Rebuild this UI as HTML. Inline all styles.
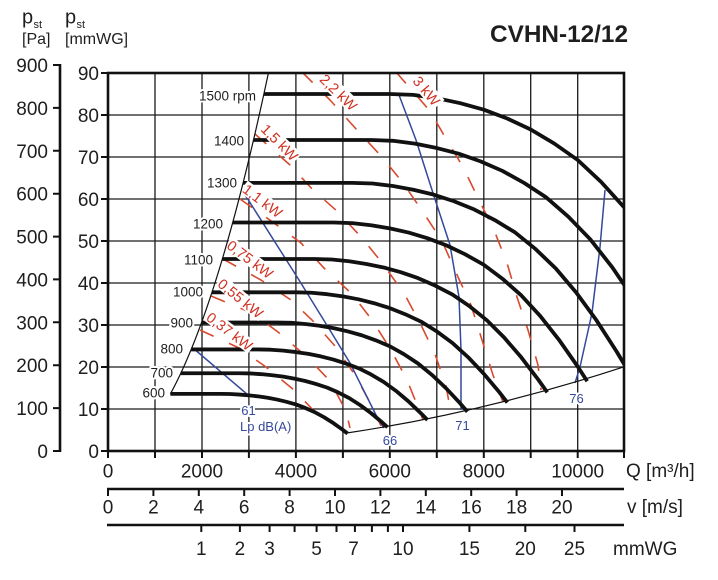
<!DOCTYPE html>
<html><head><meta charset="utf-8"><style>
html,body{margin:0;padding:0;background:#fff;}
svg{display:block;}
text{font-family:"Liberation Sans",Arial,sans-serif;}
</style></head><body>
<svg width="718" height="580" viewBox="0 0 718 580" xmlns="http://www.w3.org/2000/svg">
<defs><clipPath id="pc"><rect x="108" y="73" width="516" height="378"/></clipPath></defs>
<rect width="718" height="580" fill="#fff"/>

<!-- grid -->
<g stroke="#1a1a1a" stroke-width="1.3">
<path d="M155,73V451M202,73V451M248.9,73V451M295.9,73V451M342.9,73V451M389.8,73V451M436.8,73V451M483.8,73V451M530.7,73V451M577.7,73V451"/>
<path d="M108,409H624M108,367H624M108,325H624M108,283H624M108,241H624M108,199H624M108,157H624M108,115H624"/>
</g>

<!-- power lines -->
<g fill="none" stroke="#d84a2f" stroke-width="1.6" stroke-dasharray="15 17" clip-path="url(#pc)">
<path d="M200,330 L239,348 L266,367 L294,390 L316,413"/>
<path d="M211,296 L252,313 L278,332 L307,357 L330,381 L346,411 L350,428"/>
<path d="M223,259 L261,280 L291,300 L312,320 L335,346 L355,375 L373,408 L381,426"/>
<path d="M240,199 L274,223 L301,243 L324,268 L352,294 L372,320 L391,350 L407,380 L420,412 L423,420"/>
<path d="M255,134 L290,165 L313,190 L337,211 L362,238 L383,264 L405,295 L422,327 L435,354 L446,386 L451,413"/>
<path d="M302,72 L330,100 L357,130 L382,157 L403,183 L423,212 L442,241 L458,277 L471,305 L482,340 L493,375 L503,402"/>
<path d="M396,72 L430,111 L445,137 L463,167 L479,200 L494,230 L507,263 L517,297 L528,330 L538,365 L541,390"/>
</g>

<!-- blue Lp lines -->
<g fill="none" stroke="#34499b" stroke-width="1.5" stroke-linejoin="round">
<path d="M193,348 L248,395"/>
<path d="M242,190 L299,280 L328,327 L350,363 L377,417 L384,428"/>
<path d="M399,95 L416,140 L432,190 L450,245 L459,297 L461,350 L461,410"/>
<path d="M605,190 L600,247 L592,313 L580,367 L575,383"/>
</g>

<!-- fan curves -->
<g clip-path="url(#pc)" fill="none" stroke="#111" stroke-width="3.8" stroke-linejoin="round">
<path vector-effect="non-scaling-stroke" transform="translate(108,451) scale(0.4,0.16)" d="M155.9,-357 L281.8,-357 L305.3,-356.1 L328.8,-352.8 L352.3,-347.8 L375.8,-341.3 L399.2,-332.5 L422.7,-321.5 L446.2,-307.5 L469.7,-291 L493.2,-269 L516.7,-243 L540.2,-211 L563.6,-174 L587.1,-132 L599,-109"/>
<path vector-effect="non-scaling-stroke" transform="translate(108,451) scale(0.46667,0.21778)" d="M155.9,-357 L281.8,-357 L305.3,-356.1 L328.8,-352.8 L352.3,-347.8 L375.8,-341.3 L399.2,-332.5 L422.7,-321.5 L446.2,-307.5 L469.7,-291 L493.2,-269 L516.7,-243 L540.2,-211 L563.6,-174 L587.1,-132 L599,-109"/>
<path vector-effect="non-scaling-stroke" transform="translate(108,451) scale(0.53333,0.28444)" d="M155.9,-357 L281.8,-357 L305.3,-356.1 L328.8,-352.8 L352.3,-347.8 L375.8,-341.3 L399.2,-332.5 L422.7,-321.5 L446.2,-307.5 L469.7,-291 L493.2,-269 L516.7,-243 L540.2,-211 L563.6,-174 L587.1,-132 L599,-109"/>
<path vector-effect="non-scaling-stroke" transform="translate(108,451) scale(0.6,0.36)" d="M155.9,-357 L281.8,-357 L305.3,-356.1 L328.8,-352.8 L352.3,-347.8 L375.8,-341.3 L399.2,-332.5 L422.7,-321.5 L446.2,-307.5 L469.7,-291 L493.2,-269 L516.7,-243 L540.2,-211 L563.6,-174 L587.1,-132 L599,-109"/>
<path vector-effect="non-scaling-stroke" transform="translate(108,451) scale(0.66667,0.44444)" d="M155.9,-357 L281.8,-357 L305.3,-356.1 L328.8,-352.8 L352.3,-347.8 L375.8,-341.3 L399.2,-332.5 L422.7,-321.5 L446.2,-307.5 L469.7,-291 L493.2,-269 L516.7,-243 L540.2,-211 L563.6,-174 L587.1,-132 L599,-109"/>
<path vector-effect="non-scaling-stroke" transform="translate(108,451) scale(0.73333,0.53778)" d="M155.9,-357 L281.8,-357 L305.3,-356.1 L328.8,-352.8 L352.3,-347.8 L375.8,-341.3 L399.2,-332.5 L422.7,-321.5 L446.2,-307.5 L469.7,-291 L493.2,-269 L516.7,-243 L540.2,-211 L563.6,-174 L587.1,-132 L599,-109"/>
<path vector-effect="non-scaling-stroke" transform="translate(108,451) scale(0.8,0.64)" d="M155.9,-357 L281.8,-357 L305.3,-356.1 L328.8,-352.8 L352.3,-347.8 L375.8,-341.3 L399.2,-332.5 L422.7,-321.5 L446.2,-307.5 L469.7,-291 L493.2,-269 L516.7,-243 L540.2,-211 L563.6,-174 L587.1,-132 L599,-109"/>
<path vector-effect="non-scaling-stroke" transform="translate(108,451) scale(0.86667,0.75111)" d="M155.9,-357 L281.8,-357 L305.3,-356.1 L328.8,-352.8 L352.3,-347.8 L375.8,-341.3 L399.2,-332.5 L422.7,-321.5 L446.2,-307.5 L469.7,-291 L493.2,-269 L516.7,-243 L540.2,-211 L563.6,-174 L587.1,-132 L599,-109"/>
<path vector-effect="non-scaling-stroke" transform="translate(108,451) scale(0.93333,0.87111)" d="M155.9,-357 L281.8,-357 L305.3,-356.1 L328.8,-352.8 L352.3,-347.8 L375.8,-341.3 L399.2,-332.5 L422.7,-321.5 L446.2,-307.5 L469.7,-291 L493.2,-269 L516.7,-243 L540.2,-211 L563.6,-174 L587.1,-132 L599,-109"/>
<path vector-effect="non-scaling-stroke" transform="translate(108,451) scale(1,1)" d="M155.9,-357 L281.8,-357 L305.3,-356.1 L328.8,-352.8 L352.3,-347.8 L375.8,-341.3 L399.2,-332.5 L422.7,-321.5 L446.2,-307.5 L469.7,-291 L493.2,-269 L516.7,-243 L540.2,-211 L563.6,-174 L587.1,-132 L599,-109"/>
</g>

<!-- kW labels -->
<g font-size="14.5" fill="#cf2f1f" text-anchor="middle">
<g transform="translate(229.5,331.5) rotate(37)"><rect x="-28" y="-7.5" width="56" height="14" fill="#fff"/><text y="5">0,37 kW</text></g>
<g transform="translate(240.5,298.5) rotate(39)"><rect x="-28" y="-7.5" width="56" height="14" fill="#fff"/><text y="5">0,55 kW</text></g>
<g transform="translate(250,259.5) rotate(37)"><rect x="-28" y="-7.5" width="56" height="14" fill="#fff"/><text y="5">0,75 kW</text></g>
<g transform="translate(262.5,201) rotate(37)"><rect x="-24" y="-7.5" width="48" height="14" fill="#fff"/><text y="5">1,1 kW</text></g>
<g transform="translate(279.5,142.5) rotate(45)"><rect x="-24" y="-7.5" width="48" height="14" fill="#fff"/><text y="5">1,5 kW</text></g>
<g transform="translate(338.5,92.5) rotate(44)"><rect x="-25" y="-8" width="50" height="15" fill="#fff"/><text y="5">2,2 kW</text></g>
<g transform="translate(426.5,91) rotate(50)"><rect x="-18.5" y="-8" width="37" height="15" fill="#fff"/><text y="5">3 kW</text></g>
</g>

<!-- boundary lines -->
<g fill="none" stroke="#111" stroke-width="1.2">
<path d="M170.4,393.9 Q219.4,304.1 268.4,73"/>
<path d="M347.6,432.9 Q485.8,412 624,366.8"/>
</g>

<!-- plot frame and ticks -->
<rect x="108" y="73" width="516" height="378" fill="none" stroke="#111" stroke-width="2.6"/>
<g stroke="#111" stroke-width="2">
<path d="M101,451H108M101,409H108M101,367H108M101,325H108M101,283H108M101,241H108M101,199H108M101,157H108M101,115H108M101,73H108"/>
<path d="M108,451V458M155,451V458M202,451V458M248.9,451V458M295.9,451V458M342.9,451V458M389.8,451V458M436.8,451V458M483.8,451V458M530.7,451V458M577.7,451V458M624,451V458"/>
<path d="M53,451H60M53,408.1H60M53,365.2H60M53,322.3H60M53,279.4H60M53,236.6H60M53,193.7H60M53,150.8H60M53,107.9H60M53,65H60"/>
<path d="M108,489V496M153.4,489V496M198.8,489V496M244.2,489V496M289.6,489V496M335,489V496M380.4,489V496M425.8,489V496M471.2,489V496M516.6,489V496M562,489V496"/>
<path d="M201.3,525V532M239.9,525V532M269.6,525V532M294.6,525V532M316.6,525V532M336.5,525V532M354.9,525V532M371.9,525V532M387.9,525V532M403,525V532M469.4,525V532M525.3,525V532M574.5,525V532"/>
</g>
<g stroke="#111" stroke-width="2.6">
<path d="M60,64V452"/>
<path d="M107,489H624"/>
<path d="M107,525H624"/>
</g>

<!-- rpm labels -->
<g font-size="13.5" fill="#1e1e1e" text-anchor="end" stroke="#fff" stroke-width="4" paint-order="stroke" stroke-linejoin="round">
<text x="256" y="100.5">1500 rpm</text>
<text x="244" y="145.5">1400</text>
<text x="237" y="187.5">1300</text>
<text x="223" y="228.5">1200</text>
<text x="213" y="264.5">1100</text>
<text x="203" y="296.5">1000</text>
<text x="193" y="327.5">900</text>
<text x="183" y="353.5">800</text>
<text x="173" y="377.5">700</text>
<text x="165" y="397.5">600</text>
</g>

<!-- blue labels -->
<g font-size="13" fill="#34499b" stroke="#fff" stroke-width="4" paint-order="stroke" stroke-linejoin="round">
<text x="248.5" y="415" text-anchor="middle">61</text>
<text x="240" y="431">Lp dB(A)</text>
<text x="390" y="445" text-anchor="middle">66</text>
<text x="462.5" y="430" text-anchor="middle">71</text>
<text x="576.5" y="403" text-anchor="middle">76</text>
</g>

<!-- axis labels -->
<g font-size="19" fill="#1e1e1e">
<g text-anchor="end">
<text x="48" y="72">900</text>
<text x="48" y="114.9">800</text>
<text x="48" y="157.8">700</text>
<text x="48" y="200.7">600</text>
<text x="48" y="243.6">500</text>
<text x="48" y="286.4">400</text>
<text x="48" y="329.3">300</text>
<text x="48" y="372.2">200</text>
<text x="48" y="415.1">100</text>
<text x="48" y="458">0</text>
<text x="99" y="80">90</text>
<text x="99" y="122">80</text>
<text x="99" y="164">70</text>
<text x="99" y="206">60</text>
<text x="99" y="248">50</text>
<text x="99" y="290">40</text>
<text x="99" y="332">30</text>
<text x="99" y="374">20</text>
<text x="99" y="416">10</text>
<text x="99" y="458">0</text>
</g>
<g text-anchor="middle">
<text x="108" y="477.5">0</text>
<text x="202" y="477.5">2000</text>
<text x="295.9" y="477.5">4000</text>
<text x="389.8" y="477.5">6000</text>
<text x="483.8" y="477.5">8000</text>
<text x="577.7" y="477.5">10000</text>
<text x="108" y="513.5">0</text>
<text x="153.4" y="513.5">2</text>
<text x="198.8" y="513.5">4</text>
<text x="244.2" y="513.5">6</text>
<text x="289.6" y="513.5">8</text>
<text x="335" y="513.5">10</text>
<text x="380.4" y="513.5">12</text>
<text x="425.8" y="513.5">14</text>
<text x="471.2" y="513.5">16</text>
<text x="516.6" y="513.5">18</text>
<text x="562" y="513.5">20</text>
<text x="201.3" y="555">1</text>
<text x="239.9" y="555">2</text>
<text x="269.6" y="555">3</text>
<text x="316.6" y="555">5</text>
<text x="353.5" y="555">7</text>
<text x="403" y="555">10</text>
<text x="469.4" y="555">15</text>
<text x="525.3" y="555">20</text>
<text x="574.5" y="555">25</text>
</g>
<text x="626" y="477">Q [m³/h]</text>
<text x="627" y="513">v [m/s]</text>
<text x="613" y="555">mmWG</text>
</g>

<!-- header -->
<g fill="#1e1e1e">
<text x="22" y="23.5" font-size="20">p</text>
<text x="33.5" y="28" font-size="11">st</text>
<text x="22" y="44" font-size="16">[Pa]</text>
<text x="65" y="23.5" font-size="20">p</text>
<text x="76.5" y="28" font-size="11">st</text>
<text x="65" y="44" font-size="16">[mmWG]</text>
<text x="490" y="42" font-size="24.5" font-weight="bold" textLength="138" lengthAdjust="spacingAndGlyphs">CVHN-12/12</text>
</g>
</svg>
</body></html>
